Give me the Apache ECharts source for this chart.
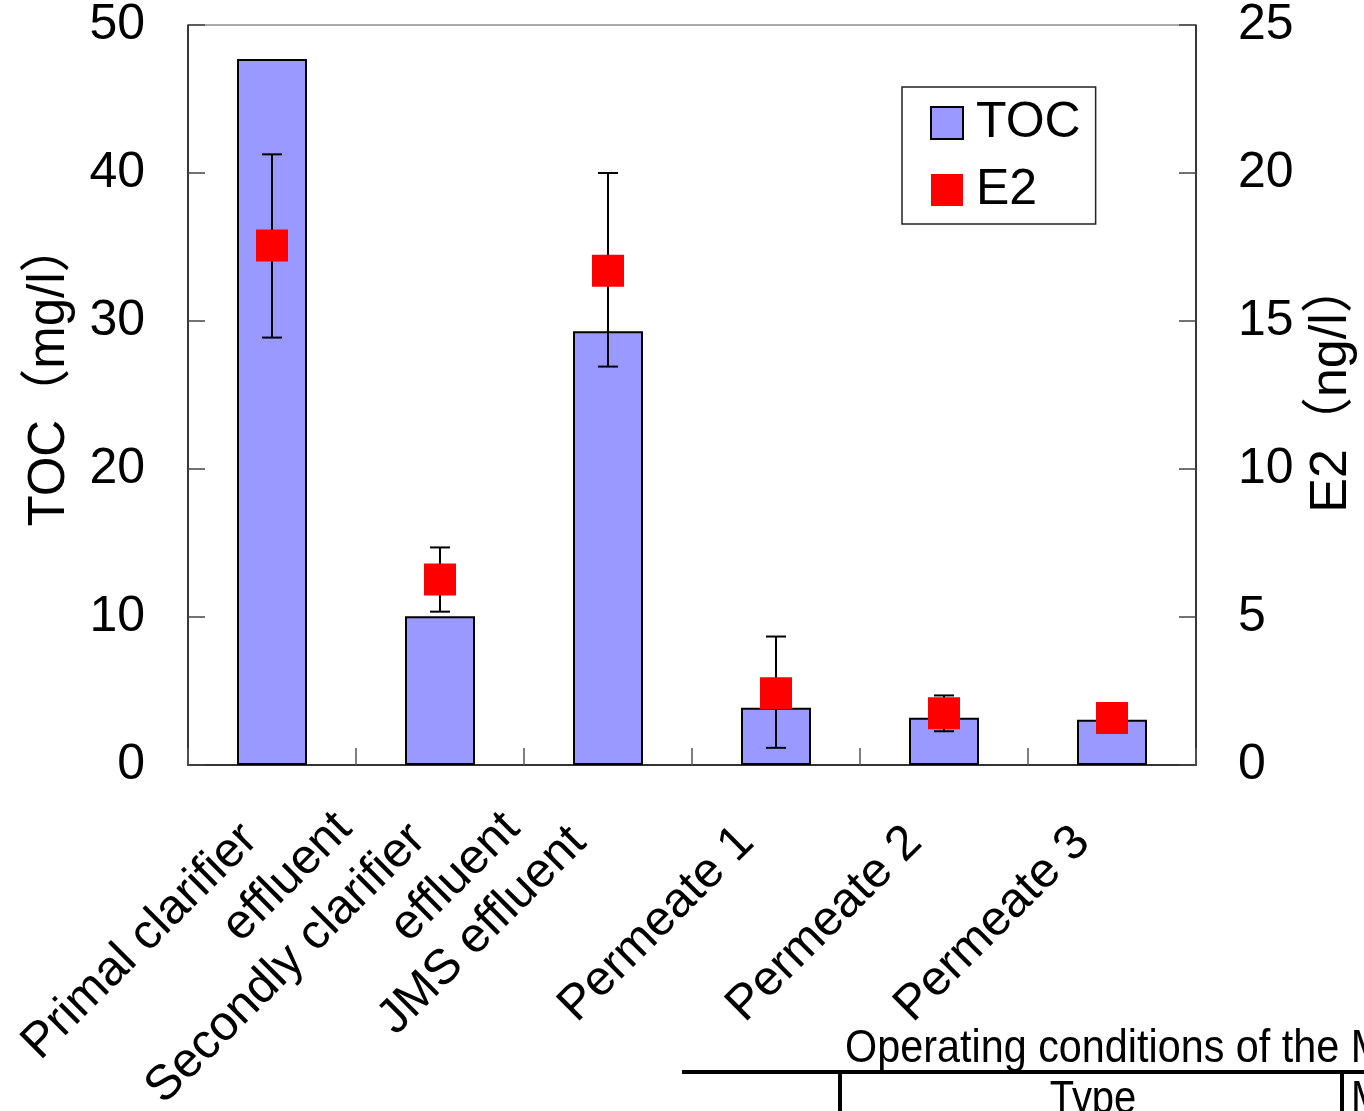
<!DOCTYPE html>
<html><head><meta charset="utf-8">
<script src="https://cdn.jsdelivr.net/npm/echarts@6/dist/echarts.min.js"></script>
<style>html,body{margin:0;padding:0;background:#fff}#chart{width:1364px;height:1111px}</style>
</head><body><div id="chart"></div>
<script>
const categories = ['Primal clarifier effluent', 'Secondly clarifier effluent', 'JMS effluent', 'Permeate 1', 'Permeate 2', 'Permeate 3'];
const labelSingle = ['', '', 'JMS effluent', 'Permeate 1', 'Permeate 2', 'Permeate 3'];
const labelLine1 = ['Primal clarifier', 'Secondly clarifier', '', '', '', ''];
const labelLine2 = ['effluent', 'effluent', '', '', '', ''];
const tocValues = [47.7, 10.05, 29.3, 3.87, 3.2, 3.05];
const e2Values = [17.55, 6.27, 16.7, 2.42, 1.75, 1.59];
const e2Low = [14.44, 5.18, 13.46, 0.58, 1.14, null];
const e2High = [20.63, 7.35, 20.0, 4.34, 2.35, null];
const leftAxisName = 'TOC（mg/l）';
const rightAxisName = 'E2（ng/l）';
const tableTitle = 'Operating conditions of the MBR';
const tableHeader1 = 'Type';
const tableHeader2 = 'Membrane';

const FONT = "'Liberation Sans', Arial, 'Noto Sans CJK JP', sans-serif";
const errData = [];
e2Low.forEach((lo, i) => { if (lo != null) errData.push([i, lo, e2High[i]]); });

const chart = echarts.init(document.getElementById('chart'), null, {renderer: 'canvas'});

function labelAxis(labels, margin, align, padding) {
  return {
    type: 'category', data: categories, gridIndex: 0, position: 'bottom',
    axisLine: {show: false}, axisTick: {show: false}, splitLine: {show: false},
    axisLabel: {
      interval: 0, rotate: 45, margin: margin, align: align, padding: padding,
      fontFamily: FONT, fontSize: 49, color: '#000',
      formatter: (v, i) => labels[i]
    }
  };
}

chart.setOption({
  animation: false,
  backgroundColor: '#fff',
  grid: {left: 188, right: 168, top: 25, bottom: 346, show: true, borderColor: '#555', borderWidth: 1,
         containLabel: false, outerBoundsMode: 'none'},
  legend: {
    orient: 'vertical', left: 902, top: 87,
    padding: [11, 15, 9, 28], itemGap: 17, itemWidth: 32, itemHeight: 32,
    backgroundColor: '#fff', borderColor: '#222', borderWidth: 1.5,
    textStyle: {fontFamily: FONT, fontSize: 50, color: '#000', lineHeight: 50, padding: [0, 0, 0, 8]},
    data: [
      {name: 'TOC', icon: 'rect', itemStyle: {color: '#9999FF', borderColor: '#000', borderWidth: 2}},
      {name: 'E2', icon: 'rect', itemStyle: {color: '#FF0000', borderWidth: 0}}
    ]
  },
  xAxis: [
    {
      type: 'category', data: categories, position: 'bottom',
      axisLine: {show: true, lineStyle: {color: '#333', width: 2}},
      axisTick: {show: true, inside: true, length: 17, alignWithLabel: false, lineStyle: {color: '#555', width: 1.5}},
      axisLabel: {
        interval: 0, rotate: 45, margin: 40, align: 'right', padding: [0, 42, 0, 0],
        fontFamily: FONT, fontSize: 49, color: '#000',
        formatter: (v, i) => labelSingle[i]
      }
    },
    labelAxis(labelLine1, 45, 'right', [0, 31, 0, 0]),
    labelAxis(labelLine2, 128, 'center', [0, 0, 0, 44])
  ],
  yAxis: [
    {
      type: 'value', min: 0, max: 50, interval: 10, position: 'left',
      name: leftAxisName, nameLocation: 'middle', nameGap: 113,
      nameTextStyle: {fontFamily: FONT, fontSize: 51, color: '#000', padding: [0, 0, 0, 42]},
      axisLine: {show: true, lineStyle: {color: '#111', width: 1.5}},
      axisTick: {show: true, inside: true, length: 17, lineStyle: {color: '#444', width: 1.5}},
      axisLabel: {margin: 43, padding: [16, 0, 0, 0], fontFamily: FONT, fontSize: 50, color: '#000'},
      splitLine: {show: false}
    },
    {
      type: 'value', min: 0, max: 25, interval: 5, position: 'right',
      name: rightAxisName, nameLocation: 'middle', nameGap: 110,
      nameTextStyle: {fontFamily: FONT, fontSize: 52, color: '#000', padding: [0, 0, 0, 16]},
      axisLine: {show: true, lineStyle: {color: '#111', width: 1.5}},
      axisTick: {show: true, inside: true, length: 17, lineStyle: {color: '#444', width: 1.5}},
      axisLabel: {margin: 42, padding: [16, 0, 0, 0], fontFamily: FONT, fontSize: 50, color: '#000'},
      splitLine: {show: false}
    }
  ],
  series: [
    {
      name: 'TOC', type: 'bar', xAxisIndex: 0, yAxisIndex: 0, data: tocValues, barWidth: 70,
      itemStyle: {color: '#9999FF', borderColor: '#000', borderWidth: 2}, z: 2
    },
    {
      name: 'E2err', type: 'custom', xAxisIndex: 0, yAxisIndex: 1, data: errData, z: 3,
      renderItem: function (params, api) {
        const x = api.value(0);
        const pLo = api.coord([x, api.value(1)]);
        const pHi = api.coord([x, api.value(2)]);
        const hw = 10;
        const st = {stroke: '#000', lineWidth: 2};
        return {type: 'group', children: [
          {type: 'line', shape: {x1: pHi[0], y1: pHi[1], x2: pLo[0], y2: pLo[1]}, style: st},
          {type: 'line', shape: {x1: pHi[0] - hw, y1: pHi[1], x2: pHi[0] + hw, y2: pHi[1]}, style: st},
          {type: 'line', shape: {x1: pLo[0] - hw, y1: pLo[1], x2: pLo[0] + hw, y2: pLo[1]}, style: st}
        ]};
      }
    },
    {
      name: 'E2', type: 'scatter', xAxisIndex: 0, yAxisIndex: 1, data: e2Values,
      symbol: 'rect', symbolSize: 32, itemStyle: {color: '#FF0000', opacity: 1}, z: 4
    }
  ],
  graphic: [
    {type: 'text', x: 845, y: 1026, scaleX: 0.88, style: {text: tableTitle, fontFamily: FONT, fontSize: 47, fill: '#000'}},
    {type: 'rect', shape: {x: 682, y: 1070, width: 700, height: 4}, style: {fill: '#000'}},
    {type: 'rect', shape: {x: 838, y: 1070, width: 4, height: 60}, style: {fill: '#000'}},
    {type: 'rect', shape: {x: 1340, y: 1070, width: 4, height: 60}, style: {fill: '#000'}},
    {type: 'text', x: 1093, y: 1077, scaleX: 0.85, style: {text: tableHeader1, fontFamily: FONT, fontSize: 47, fill: '#000', align: 'center'}},
    {type: 'text', x: 1351, y: 1077, scaleX: 0.85, style: {text: tableHeader2, fontFamily: FONT, fontSize: 47, fill: '#000'}}
  ]
});
</script></body></html>
